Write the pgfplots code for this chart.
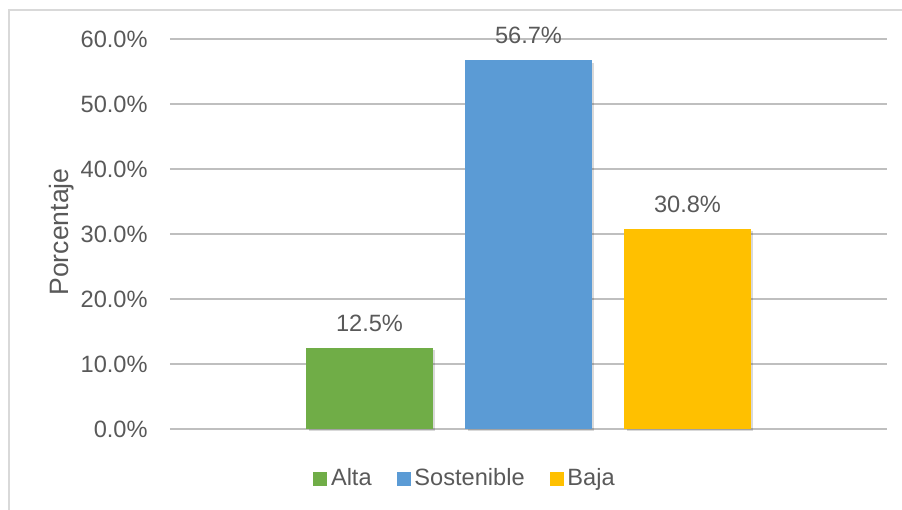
\documentclass[border=0pt]{standalone}
\usepackage{pgfplots}
\pgfplotsset{compat=1.18}
\usepackage{fontspec}
\setmainfont{Liberation Sans}
\usetikzlibrary{shadows}
\definecolor{altag}{HTML}{70AD47}
\definecolor{sosb}{HTML}{5B9BD5}
\definecolor{bajay}{HTML}{FFC000}
\definecolor{txt}{HTML}{595959}
\definecolor{grid}{HTML}{D9D9D9}
\begin{document}
\begin{tikzpicture}[x=0.5pt,y=0.5pt,font=\fontsize{11.8}{14}\selectfont]
\useasboundingbox (0,0) rectangle (902,510);
\draw[grid, line width=0.6pt] (9,0) -- (9,500) -- (903,500);
\begin{axis}[
  at={(85pt,40.5pt)}, anchor=south west,
  scale only axis, width=358.5pt, height=195pt,
  /pgf/number format/assume math mode=true,
  ybar, bar shift=0pt, bar width=0.7925,
  xmin=-2.2547, xmax=2.2547,
  ymin=0, ymax=60, ytick={0,10,...,60},
  xtick=\empty,
  clip=false,
  axis line style={draw=none},
  tick style={draw=none},
  major tick length=0pt,
  ymajorgrids, grid style={grid, line width=0.6pt},
  yticklabel={\pgfmathprintnumber[fixed,fixed zerofill,precision=1]{\tick}\%},
  yticklabel style={text=txt, anchor=east, inner sep=0pt, xshift=-11pt},
  ylabel={Porcentaje},
  every axis y label/.style={at={(axis description cs:-0.1506,0.505)}, rotate=90, anchor=center, text=txt, font=\fontsize{13.3}{16}\selectfont},
  nodes near coords={\pgfmathprintnumber[fixed,fixed zerofill,precision=1]{\pgfplotspointmeta}\%},
  nodes near coords style={text=txt, anchor=south, inner sep=0pt, yshift=8pt},
  legend style={draw=none, fill=none, at={(axis description cs:0.4128,-0.128)}, anchor=center,
    legend columns=-1, text=txt, inner sep=0pt,
    /tikz/every even column/.append style={column sep=10.5pt}},
  legend cell align=left,
]
\addplot[fill=altag, draw=none, forget plot, drop shadow={shadow xshift=1.3pt, shadow yshift=-1.1pt, fill=black, opacity=0.15}] coordinates {(-1,12.5)};
\addplot[fill=sosb, draw=none, forget plot, drop shadow={shadow xshift=1.3pt, shadow yshift=-1.1pt, fill=black, opacity=0.15}] coordinates {(0,56.7)};
\addplot[fill=bajay, draw=none, forget plot, drop shadow={shadow xshift=1.3pt, shadow yshift=-1.1pt, fill=black, opacity=0.15}] coordinates {(1,30.8)};
\addlegendimage{legend image code/.code={\fill[altag] (0pt,-3.25pt) rectangle (6.5pt,3.25pt);}}
\addlegendentry{Alta}
\addlegendimage{legend image code/.code={\fill[sosb] (0pt,-3.25pt) rectangle (6.5pt,3.25pt);}}
\addlegendentry{Sostenible}
\addlegendimage{legend image code/.code={\fill[bajay] (0pt,-3.25pt) rectangle (6.5pt,3.25pt);}}
\addlegendentry{Baja}
\end{axis}
\end{tikzpicture}
\end{document}
